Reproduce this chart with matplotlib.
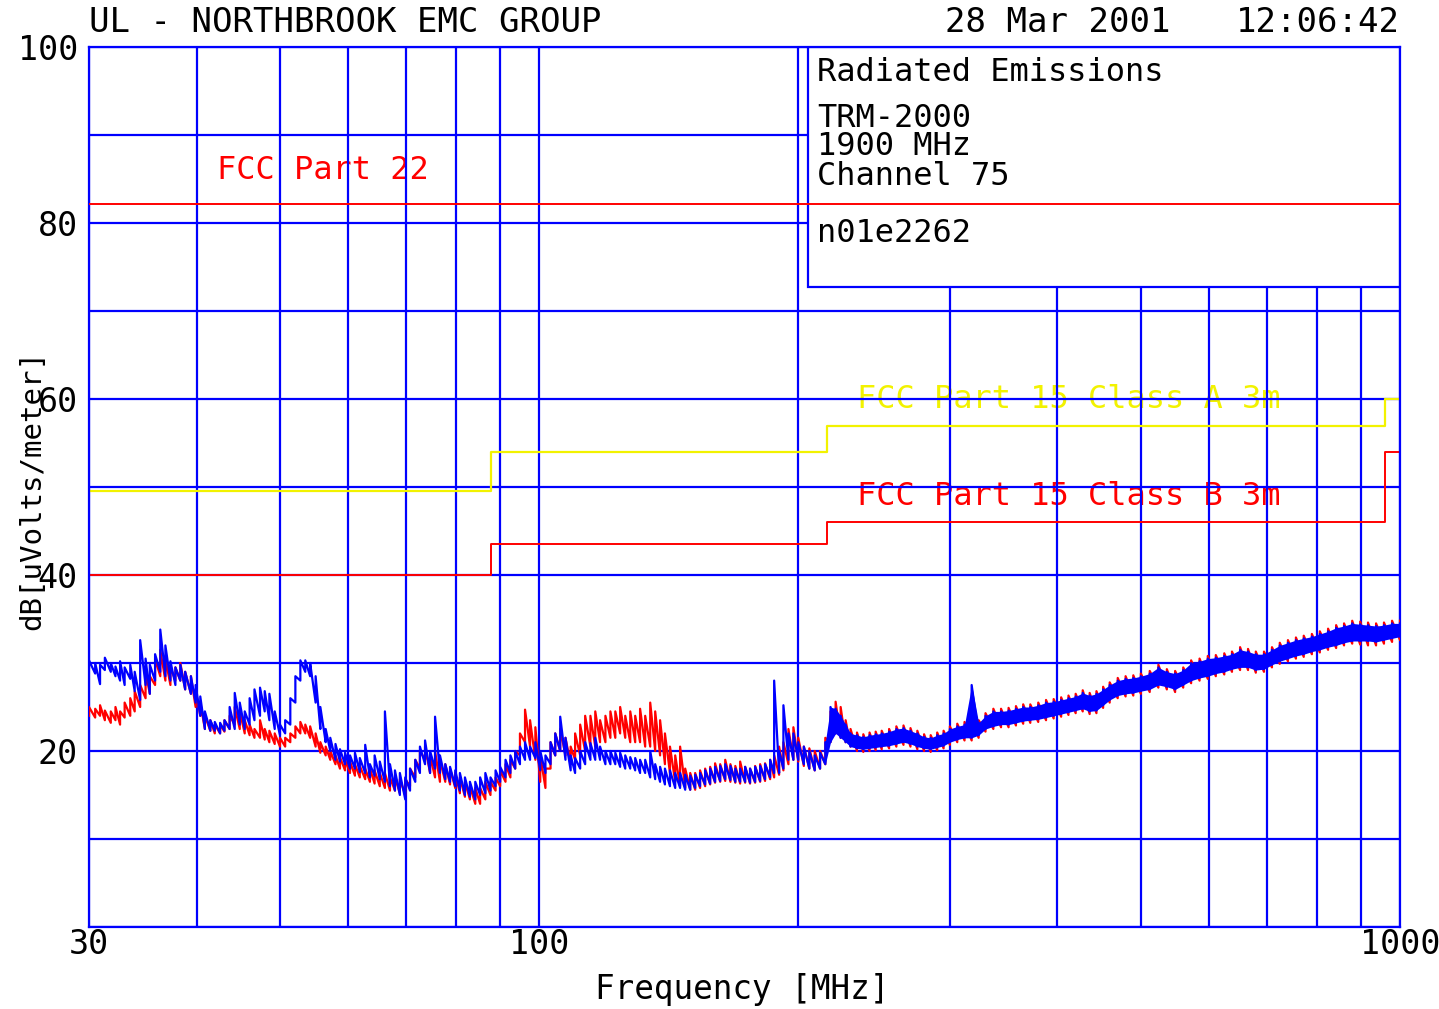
import numpy as np
import matplotlib
matplotlib.use('Agg')
import matplotlib.pyplot as plt
from matplotlib.patches import Rectangle
from matplotlib.ticker import FixedLocator, NullFormatter

plt.rcParams['font.family'] = ['DejaVu Sans Mono', 'DejaVu Sans']

# limit lines (MHz, dBuV/m)
part22_f = [30, 1000]
part22_db = [82.2, 82.2]
classA_f = [30, 88, 88, 216, 216, 960, 960, 1000]
classA_db = [49.5, 49.5, 54.0, 54.0, 56.9, 56.9, 60.0, 60.0]
classB_f = [30, 88, 88, 216, 216, 960, 960, 1000]
classB_db = [40.0, 40.0, 43.5, 43.5, 46.0, 46.0, 54.0, 54.0]

# blue trace: frequency, lower and upper edge of the noisy trace
blue_f = [30.0, 30.5, 30.9, 31.3, 31.8, 32.2, 32.6, 33.0, 33.5, 33.9, 34.4, 34.9, 35.3, 35.8,
          36.3, 36.8, 37.3, 37.8, 38.3, 38.8, 39.4, 39.9, 40.4, 40.9, 41.5, 42.0, 42.6, 43.1,
          43.7, 44.3, 44.9, 45.5, 46.1, 46.7, 47.4, 48.0, 48.6, 49.3, 50.0, 50.7, 51.4, 52.1,
          52.8, 53.5, 54.2, 55.0, 55.7, 56.5, 57.2, 58.0, 58.7, 59.5, 60.3, 61.1, 61.9, 62.8,
          63.6, 64.4, 65.3, 66.2, 67.1, 68.0, 68.9, 69.9, 70.8, 71.8, 72.7, 73.7, 74.7, 75.7,
          76.7, 77.8, 78.8, 79.9, 80.9, 82.0, 83.1, 84.3, 85.4, 86.6, 87.8, 89.0, 90.1, 91.4,
          92.6, 93.8, 95.0, 96.3, 97.6, 99.0, 100.3, 101.7, 103.1, 104.4, 105.8, 107.3, 108.8,
          110.1, 111.6, 113.1, 114.7, 116.2, 117.7, 119.4, 121.0, 122.6, 124.2, 125.9, 127.6,
          129.3, 131.0, 132.8, 134.6, 136.4, 138.2, 140.0, 141.9, 143.9, 145.8, 147.8, 149.8,
          151.8, 153.8, 155.9, 158.0, 160.1, 162.3, 164.5, 166.8, 169.0, 171.2, 173.5, 175.8,
          178.2, 180.6, 183.0, 185.5, 187.5, 190.0, 192.2, 194.8, 197.4, 200.0, 203.0, 206.0,
          209.0, 212.0, 215.0, 218.0, 221.0, 224.0, 227.0, 230.0, 234.0, 238.0, 242.0, 246.0,
          250.0, 255.0, 260.0, 265.0, 270.0, 275.0, 280.0, 285.0, 290.0, 295.0, 300.0, 306.0,
          312.0, 318.0, 324.0, 330.0, 337.0, 344.0, 351.0, 358.0, 365.0, 372.0, 380.0, 388.0,
          396.0, 404.0, 412.0, 420.0, 428.0, 436.0, 444.0, 452.0, 460.0, 470.0, 480.0, 490.0,
          500.0, 512.0, 524.0, 536.0, 548.0, 560.0, 572.0, 585.0, 598.0, 611.0, 625.0, 638.0,
          652.0, 666.0, 680.0, 695.0, 710.0, 725.0, 741.0, 757.0, 773.0, 790.0, 807.0, 825.0,
          843.0, 861.0, 880.0, 899.0, 918.0, 938.0, 958.0, 979.0, 1000.0]
blue_lo = [29.5, 28.8, 27.6, 29.2, 29.0, 28.5, 28.0, 27.5, 28.2, 26.8, 25.8, 27.5, 26.5, 28.0,
           29.0, 28.5, 28.0, 27.5, 28.0, 27.0, 26.5, 25.5, 24.0, 22.5, 22.3, 22.3, 22.0, 22.3,
           22.5, 22.5, 23.0, 22.5, 23.0, 23.5, 24.0, 24.5, 23.5, 22.5, 21.8, 22.0, 23.0, 25.5,
           28.0, 29.0, 28.5, 25.5, 22.5, 21.0, 20.0, 19.0, 18.8, 18.5, 18.0, 18.0, 17.6, 17.5,
           17.0, 17.2, 16.8, 16.5, 16.0, 15.5, 15.0, 14.5, 15.5, 16.5, 17.5, 18.5, 17.5, 18.0,
           17.5, 16.8, 16.5, 16.0, 15.5, 15.0, 14.8, 14.5, 15.0, 15.2, 15.5, 16.0, 16.5, 17.0,
           17.5, 18.0, 18.5, 19.0, 19.0, 19.2, 17.8, 17.5, 18.5, 19.5, 20.0, 19.0, 17.8,
           17.5, 18.0, 18.5, 19.0, 19.0, 19.0, 18.5, 18.5, 18.5, 18.2, 18.0, 18.0,
           17.8, 17.5, 17.5, 17.0, 16.8, 16.5, 16.2, 16.0, 15.8, 15.8, 15.6, 15.6,
           15.8, 16.0, 16.2, 16.3, 16.5, 16.6, 16.8, 16.7, 16.5, 16.5, 16.5, 16.4,
           16.5, 16.6, 16.8, 17.0, 17.5, 17.5, 18.0, 19.0, 19.0, 19.0, 18.5, 18.0,
           17.8, 18.0, 18.5, 21.0, 22.0, 21.5, 21.0, 20.5, 20.3, 20.2, 20.3, 20.4,
           20.5, 20.6, 20.8, 21.0, 20.8, 20.5, 20.3, 20.2, 20.4, 20.6, 21.0, 21.3,
           21.5, 21.5, 21.8, 22.5, 22.8, 23.0, 23.0, 23.2, 23.4, 23.5, 23.6, 23.8,
           24.0, 24.2, 24.4, 24.6, 24.8, 24.5, 24.6, 25.2, 25.8, 26.3, 26.5, 26.6,
           26.8, 27.0, 27.5, 27.3, 27.0, 27.5, 28.0, 28.3, 28.5, 28.8, 29.0, 29.3,
           29.5, 29.5, 29.2, 29.3, 29.8, 30.2, 30.5, 30.8, 31.0, 31.3, 31.5, 31.8,
           32.0, 32.3, 32.5, 32.5, 32.5, 32.4, 32.6, 32.8, 33.0]
blue_hi = [30.3, 30.0, 29.8, 30.6, 30.0, 29.6, 30.2, 29.5, 29.8, 29.0, 32.6, 30.5, 29.8, 31.0,
           33.8, 32.0, 30.2, 29.5, 29.8, 29.0, 28.5, 27.5, 26.2, 24.5, 23.5, 23.3, 23.2, 23.5,
           25.0, 26.6, 25.5, 24.5, 26.0, 27.0, 27.2, 26.8, 26.5, 24.5, 23.0, 23.5, 26.0, 28.5,
           30.3, 30.3, 30.0, 28.5, 25.0, 22.5, 21.5, 20.8, 20.2, 19.8, 19.5, 19.8, 19.2, 20.7,
           18.5, 19.5, 18.8, 24.5, 18.5, 17.8, 17.5, 17.0, 18.0, 19.0, 20.5, 21.2, 20.0, 23.9,
           19.5, 18.5, 18.2, 17.8, 17.5, 17.0, 16.5, 16.5, 17.0, 17.5, 17.0, 17.8, 18.2, 19.0,
           19.5, 20.0, 20.5, 21.0, 20.5, 21.0, 20.0, 19.5, 21.0, 22.0, 23.9, 21.5, 19.5,
           19.2, 20.0, 21.0, 20.9, 21.5, 20.5, 20.0, 20.0, 19.8, 19.8, 19.5, 19.3,
           19.2, 19.0, 19.0, 20.0, 18.5, 18.2, 18.0, 17.8, 17.5, 17.5, 17.3, 17.2,
           17.3, 17.5, 17.8, 18.0, 18.2, 18.3, 18.5, 18.3, 18.0, 18.0, 18.2, 18.0,
           18.2, 18.3, 18.5, 19.0, 28.0, 20.0, 25.2, 22.0, 22.0, 21.0, 20.5, 20.0,
           19.5, 19.8, 21.0, 25.0, 24.8, 24.0, 23.0, 22.0, 21.8, 21.6, 21.8, 21.9,
           22.0, 22.2, 22.5, 22.6, 22.3, 22.0, 21.6, 21.5, 21.8, 22.0, 22.5, 22.8,
           23.0, 27.5, 23.2, 24.0, 24.5, 24.5, 24.6, 24.8, 25.0, 25.0, 25.2, 25.5,
           25.6, 25.8, 26.0, 26.2, 26.6, 26.3, 26.5, 27.0, 27.5, 28.0, 28.2, 28.3,
           28.5, 28.8, 29.5, 29.0, 28.8, 29.2, 30.0, 30.2, 30.5, 30.6, 30.8, 31.0,
           31.5, 31.3, 31.0, 31.0, 31.5, 32.0, 32.3, 32.6, 32.8, 33.0, 33.3, 33.6,
           34.0, 34.2, 34.5, 34.4, 34.3, 34.2, 34.3, 34.5, 34.5]

# red trace
red_f = blue_f
red_lo = [24.0, 23.8, 24.0, 23.5, 23.2, 23.5, 23.0, 23.8, 24.0, 24.5, 25.0, 26.0, 26.5, 27.5,
          28.5, 28.0, 27.5, 28.0, 28.0, 27.0, 26.5, 25.0, 24.0, 22.5, 22.3, 22.0, 22.0, 22.2,
          22.5, 23.0, 22.5, 22.0, 21.8, 21.5, 21.5, 21.3, 21.0, 20.8, 20.5, 20.5, 21.0, 21.5,
          22.0, 22.0, 21.5, 20.5, 19.8, 19.5, 19.0, 18.5, 18.0, 17.8, 17.5, 17.2, 17.0, 16.8,
          16.5, 16.3, 16.0, 15.8, 15.5, 15.5, 15.2, 15.0, 16.0, 17.0, 18.0, 19.0, 17.5, 17.0,
          16.5, 16.5, 16.2, 15.8, 15.2, 14.8, 14.5, 14.0, 14.0, 14.5, 15.0, 15.5, 16.0, 16.5,
          17.0, 18.0, 19.5, 21.0, 20.5, 19.0, 16.5, 15.8, 18.0, 19.5, 20.0, 19.5, 18.5,
          19.0, 19.5, 20.0, 20.5, 20.5, 21.0, 21.0, 21.5, 21.5, 22.0, 21.5, 21.0,
          21.0, 21.0, 20.5, 20.5, 20.0, 19.5, 18.5, 17.5, 16.5, 16.0, 15.8, 15.6,
          15.6, 15.8, 16.0, 16.2, 16.4, 16.5, 16.6, 16.5, 16.4, 16.3, 16.4, 16.3,
          16.4, 16.5, 16.6, 16.8, 17.0, 17.3, 17.8, 18.5, 19.0, 18.8, 18.3, 18.0,
          17.8, 18.0, 18.5, 21.0, 22.0, 21.5, 21.0, 20.5, 20.0, 19.9, 20.0, 20.1,
          20.2, 20.3, 20.5, 20.7, 20.5, 20.2, 20.0, 19.9, 20.1, 20.3, 20.7, 21.0,
          21.2, 21.2, 21.5, 22.2, 22.5, 22.7, 22.7, 22.9, 23.1, 23.2, 23.3, 23.5,
          23.7, 23.9, 24.1, 24.3, 24.5, 24.2, 24.3, 24.9, 25.5, 26.0, 26.2, 26.3,
          26.5, 26.7, 27.2, 27.0, 26.7, 27.2, 27.7, 28.0, 28.2, 28.5, 28.7, 29.0,
          29.2, 29.2, 28.9, 29.0, 29.5, 29.9, 30.2, 30.5, 30.7, 31.0, 31.2, 31.5,
          31.7, 32.0, 32.2, 32.1, 32.0, 32.0, 32.2, 32.4, 32.6]
red_hi = [25.0, 24.8, 25.2, 24.6, 24.5, 25.0, 24.5, 25.5, 26.0, 26.8, 27.5, 29.0, 28.5, 30.5,
          31.5, 30.5, 29.5, 29.5, 30.0, 29.0, 28.5, 27.0, 25.5, 24.0, 23.5, 23.0, 23.0, 23.5,
          24.0, 25.0, 24.5, 23.5, 23.0, 22.5, 23.5, 22.5, 22.3, 22.0, 21.5, 21.5, 22.0, 22.8,
          23.3, 23.0, 22.8, 22.0, 21.0, 20.5, 20.0, 19.5, 19.3, 19.0, 18.8, 18.5, 18.3, 18.0,
          18.0, 17.8, 17.5, 17.5, 17.0, 17.0, 16.8, 16.8, 18.0, 19.0, 20.0, 20.5, 19.5, 20.0,
          19.0, 18.5, 18.0, 17.5, 17.0, 16.5, 16.0, 15.8, 15.8, 16.5, 16.5, 17.0, 17.8, 18.5,
          19.0, 20.0, 22.0, 24.7, 23.5, 22.7, 19.5, 18.0, 21.0, 22.0, 22.5, 21.5, 20.5,
          22.0, 23.0, 24.0, 24.0, 24.5, 23.5, 24.0, 24.5, 24.5, 25.0, 24.0, 24.5,
          24.0, 24.8, 24.0, 25.5, 24.5, 23.5, 22.0, 20.5, 19.5, 20.5, 18.0, 17.5,
          17.5, 17.8, 18.0, 18.2, 18.6, 18.5, 19.0, 18.5, 18.3, 18.8, 18.2, 18.0,
          18.3, 18.5, 18.6, 19.0, 19.5, 20.5, 21.0, 22.5, 22.7, 21.5, 20.5, 20.3,
          20.0, 20.0, 21.5, 24.5, 25.6, 25.0, 23.5, 22.5, 22.1, 21.9, 22.1, 22.2,
          22.3, 22.5, 22.8, 22.9, 22.6, 22.3, 21.9, 21.8, 22.1, 22.3, 22.8, 23.1,
          23.3, 23.4, 23.5, 24.3, 24.8, 24.8, 24.9, 25.1, 25.3, 25.3, 25.5, 25.8,
          25.9, 26.1, 26.3, 26.5, 26.9, 26.6, 26.8, 27.3, 27.8, 28.3, 28.5, 28.6,
          28.8, 29.1, 29.8, 29.3, 29.1, 29.5, 30.3, 30.5, 30.8, 30.9, 31.1, 31.3,
          31.8, 31.6, 31.3, 31.3, 31.8, 32.3, 32.6, 32.9, 33.1, 33.3, 33.6, 33.9,
          34.3, 34.5, 34.8, 34.7, 34.6, 34.5, 34.6, 34.8, 34.8]

BLUE = '#0000ff'
RED = '#ff0000'
YELLOW = '#f2f200'

fig = plt.figure(figsize=(14.39, 10.09), dpi=100)
ax = fig.add_axes([89/1439, 1-927/1009, 1311/1439, 880/1009])
ax.set_xscale('log')
ax.set_xlim(30, 1000)
ax.set_ylim(0, 100)

ax.xaxis.set_major_locator(FixedLocator([30, 100, 1000]))
ax.set_xticklabels(['30', '100', '1000'])
ax.xaxis.set_minor_locator(FixedLocator([40, 50, 60, 70, 80, 90, 200, 300, 400, 500, 600, 700, 800, 900]))
ax.xaxis.set_minor_formatter(NullFormatter())
ax.set_yticks(range(0, 101, 10))
ax.set_yticklabels(['' if v % 20 or v == 0 else str(v) for v in range(0, 101, 10)])
ax.tick_params(which='both', length=0, labelsize=24)
ax.tick_params(axis='x', pad=1)
ax.tick_params(axis='y', pad=8)

ax.set_axisbelow(True)
ax.grid(which='both', color=BLUE, lw=1.6)
for s in ax.spines.values():
    s.set_color(BLUE)
    s.set_linewidth(1.6)

# info box hides the grid behind it
ax.add_patch(Rectangle((0.5484, 0.7273), 0.4516, 0.2727, transform=ax.transAxes,
                       facecolor='white', edgecolor=BLUE, lw=1.6, zorder=1.5))
box_lines = [('Radiated Emissions', 0.9705), ('TRM-2000', 0.9193), ('1900 MHz', 0.8864),
             ('Channel 75', 0.8534), ('n01e2262', 0.7875)]
for txt, yy in box_lines:
    ax.text(0.5553, yy, txt, transform=ax.transAxes, fontsize=23, va='center', ha='left', zorder=2)


def draw_trace(f, lo, hi, color, z, fill):
    f = np.asarray(f)
    xs = np.repeat(f, 2)
    ys = np.column_stack([lo, hi]).ravel()
    ax.plot(xs, ys, color=color, lw=1.6, zorder=z)
    if fill:
        ax.fill_between(f, lo, hi, where=f >= 215, color=color, lw=0, zorder=z)


draw_trace(red_f, red_lo, red_hi, RED, 3, False)
draw_trace(blue_f, blue_lo, blue_hi, BLUE, 3.1, True)

ax.plot(part22_f, part22_db, color=RED, lw=1.4, zorder=4)
ax.plot(classA_f, classA_db, color=YELLOW, lw=1.6, zorder=2.5)
ax.plot(classB_f, classB_db, color=RED, lw=1.4, zorder=2.5)

ax.text(42.2, 86.0, 'FCC Part 22', color=RED, fontsize=23, va='center', ha='left', zorder=0.5)
ax.text(234, 59.9, 'FCC Part 15 Class A 3m', color=YELLOW, fontsize=23, va='center', ha='left', zorder=0.5)
ax.text(234, 48.9, 'FCC Part 15 Class B 3m', color=RED, fontsize=23, va='center', ha='left', zorder=0.5)

fig.text(89/1439, 1-23/1009, 'UL - NORTHBROOK EMC GROUP', fontsize=24.5, ha='left', va='center')
fig.text(945/1439, 1-23/1009, '28 Mar 2001', fontsize=24.5, ha='left', va='center')
fig.text(1400/1439, 1-23/1009, '12:06:42', fontsize=24.5, ha='right', va='center')
fig.text(32/1439, 1-490/1009, 'dB[uVolts/meter]', fontsize=21, rotation=90, ha='center', va='center')
fig.text(742/1439, 1-990/1009, 'Frequency [MHz]', fontsize=23.5, ha='center', va='center')

fig.savefig('out.png', dpi=100, facecolor='white')
